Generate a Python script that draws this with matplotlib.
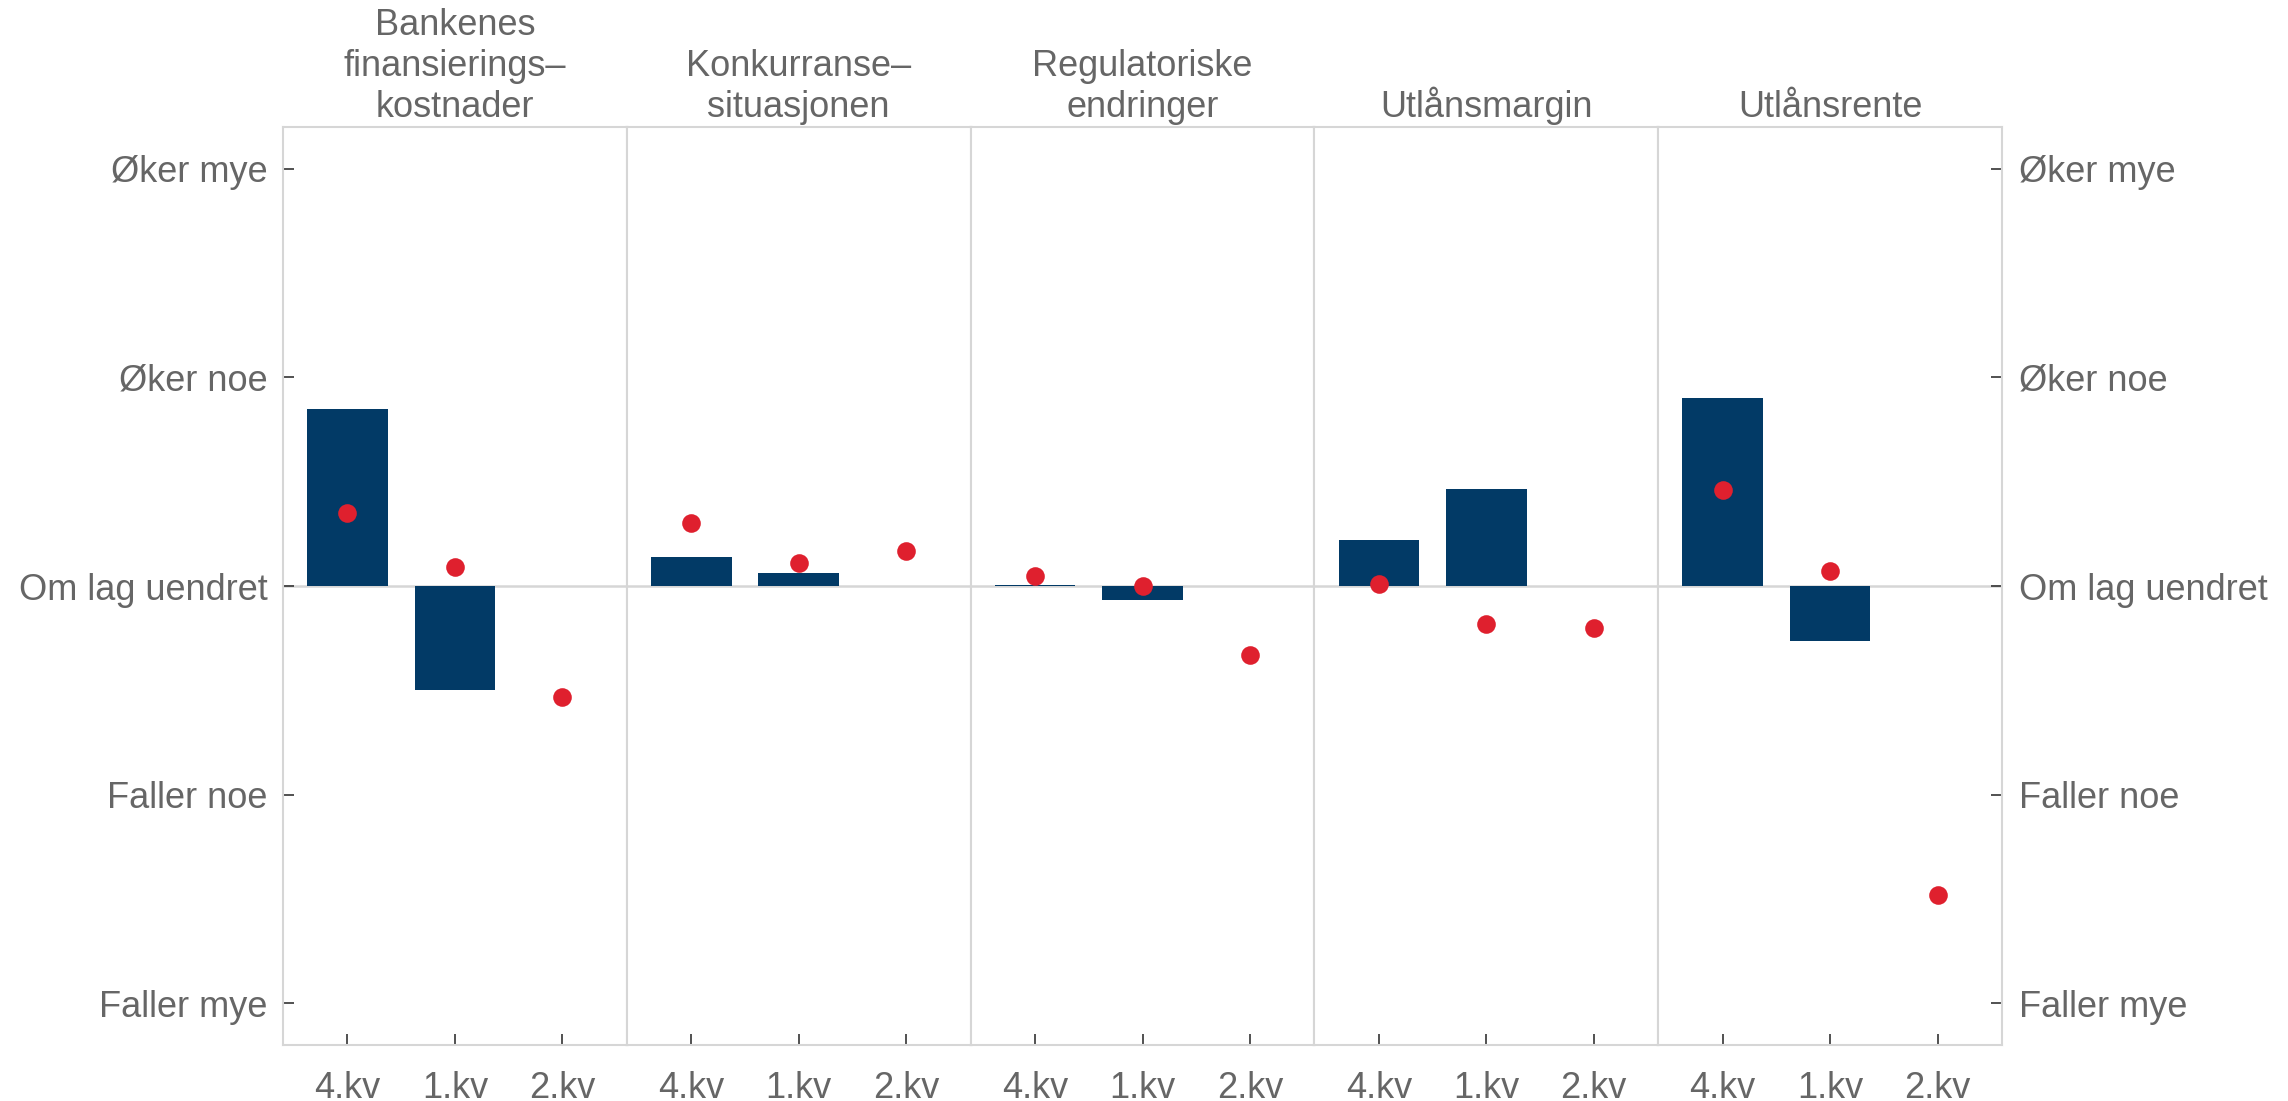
import numpy as np
import matplotlib
matplotlib.use("Agg")
import matplotlib.pyplot as plt

plt.rcParams['font.family'] = ['Liberation Sans', 'DejaVu Sans']

# Paneler og kvartaler
categories = ["Bankenes\nfinansierings–\nkostnader", "Konkurranse–\nsituasjonen",
              "Regulatoriske\nendringer", "Utlånsmargin", "Utlånsrente"]
quarters = ["4.kv", "1.kv", "2.kv"]

# Søyler (2.kv mangler)
bar_values = [
    [0.85, -0.50, np.nan],
    [0.14, 0.06, np.nan],
    [0.005, -0.067, np.nan],
    [0.22, 0.464, np.nan],
    [0.90, -0.266, np.nan],
]
# Punkter
dot_values = [
    [0.35, 0.09, -0.53],
    [0.30, 0.11, 0.17],
    [0.05, 0.00, -0.33],
    [0.01, -0.18, -0.20],
    [0.46, 0.07, -1.48],
]

y_ticks = [-2, -1, 0, 1, 2]
y_labels = ["Faller mye", "Faller noe", "Om lag uendret", "Øker noe", "Øker mye"]

bar_color = "#023a66"
dot_color = "#df202e"
text_color = "#666666"
frame_color = "#d6d6d6"
fs = 26

fig = plt.figure(figsize=(22.88, 11.01), dpi=100)
left, right, bottom, top = 283 / 2288, 2002 / 2288, 1 - 1045 / 1101, 1 - 127 / 1101
w = (right - left) / len(categories)

x = np.arange(len(quarters))
for i, cat in enumerate(categories):
    ax = fig.add_axes([left + i * w, bottom, w, top - bottom])
    ax.axhline(0, color=frame_color, lw=1.8, zorder=1)
    ax.bar(x, bar_values[i], width=0.75, color=bar_color, zorder=2)
    ax.scatter(x, dot_values[i], s=180, color=dot_color, zorder=3, linewidths=0)
    ax.set_xlim(-0.6, 2.6)
    ax.set_ylim(-2.2, 2.2)
    ax.set_xticks(x)
    ax.set_xticklabels(quarters)
    ax.tick_params(axis='x', direction='in', length=8, width=1.2, color="#333333",
                   labelsize=fs, labelcolor=text_color, pad=19)
    ax.set_yticks(y_ticks)
    if i == 0:
        ax.set_yticklabels(y_labels)
        ax.tick_params(axis='y', direction='in', length=8, width=1.2, color="#333333",
                       labelsize=fs, labelcolor=text_color, pad=11)
    elif i == len(categories) - 1:
        ax.yaxis.tick_right()
        ax.set_yticklabels(y_labels)
        ax.tick_params(axis='y', direction='in', length=8, width=1.2, color="#333333",
                       labelsize=fs, labelcolor=text_color, pad=12)
    else:
        ax.tick_params(axis='y', left=False, right=False, labelleft=False)
    for sp in ax.spines.values():
        sp.set_color(frame_color)
        sp.set_linewidth(1.5)
    ax.set_title(cat, fontsize=fs, color=text_color, pad=7, linespacing=1.22)

fig.savefig("out.png", dpi=100)
